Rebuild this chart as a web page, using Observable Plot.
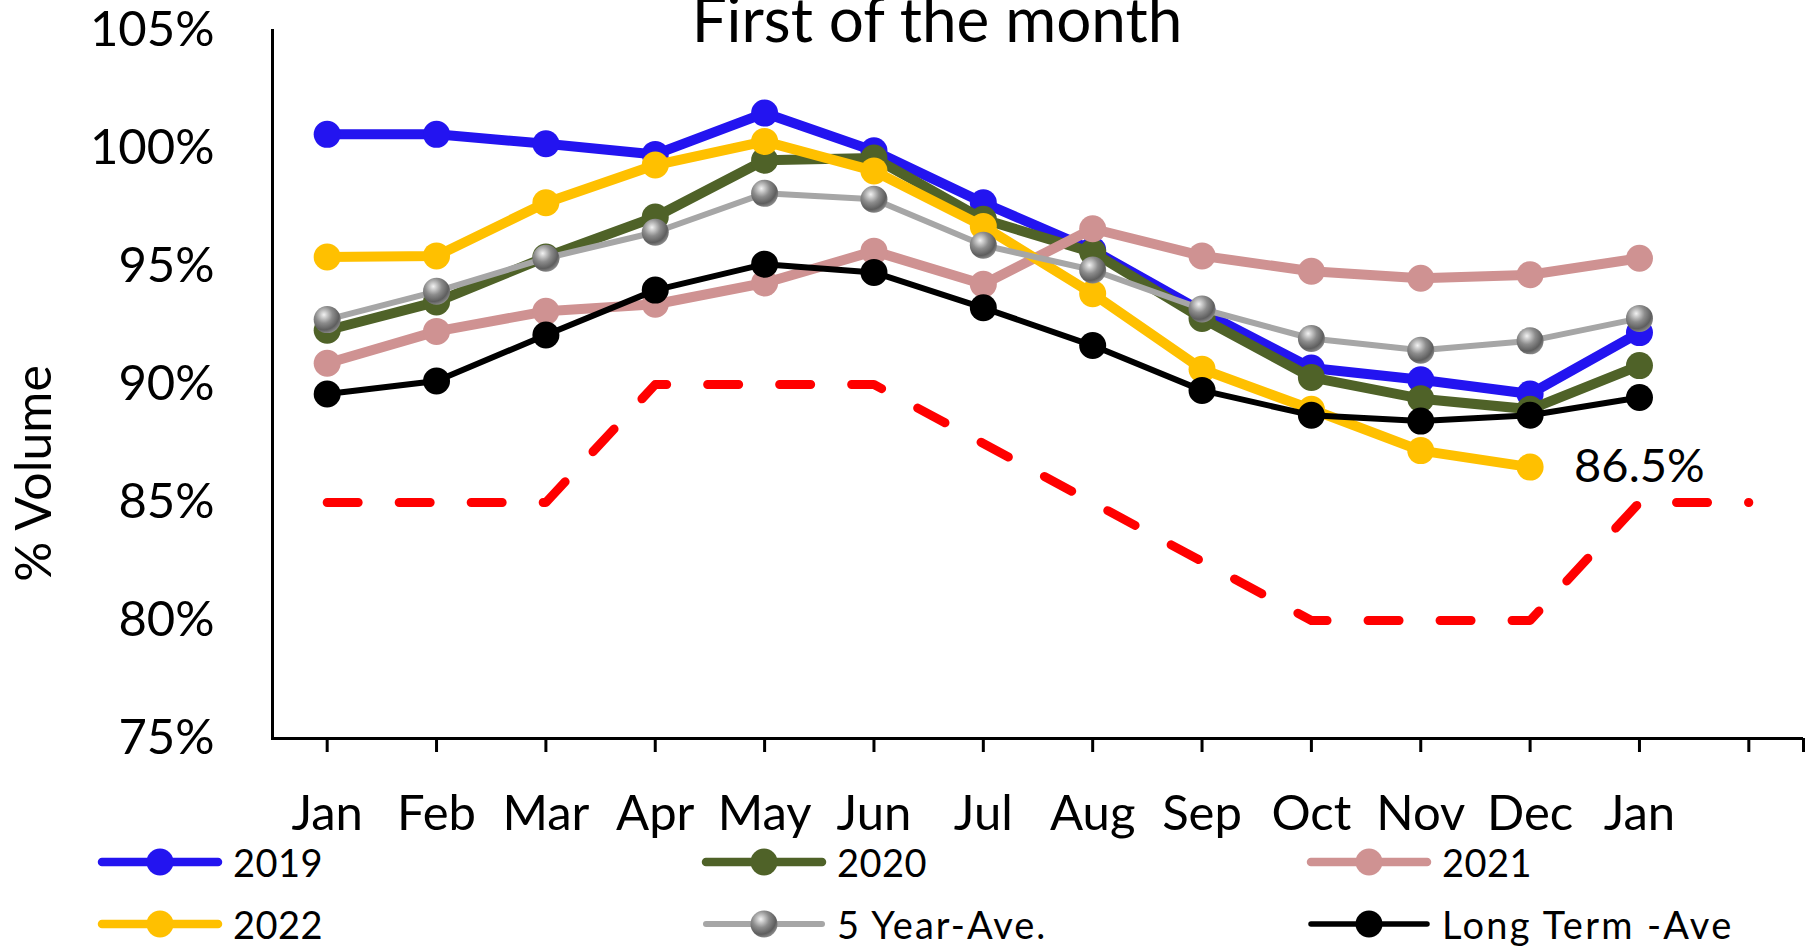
<!DOCTYPE html>
<html>
<head>
<meta charset="utf-8">
<script src="https://cdn.jsdelivr.net/npm/d3@7"></script>
<script src="https://cdn.jsdelivr.net/npm/@observablehq/plot@0.6"></script>
<style>
  body { margin: 0; background: #fff; font-family: Lato, sans-serif; color: #000; }
  #wrap { position: relative; width: 1820px; height: 946px; overflow: hidden; background: #fff; }
  #chart { position: absolute; left: 0; top: 0; }
  #title { position: absolute; left: 0; width: 1874px; top: -13px; text-align: center;
           font-size: 62px; line-height: 62px; white-space: nowrap; }
  .leg { position: absolute; display: flex; align-items: center; font-size: 38px; line-height: 40px;
         white-space: nowrap; height: 40px; }
  .leg svg { display: block; margin-right: 11px; overflow: visible; }
</style>
</head>
<body>
<div id="wrap">
  <div id="chart"></div>
  <div id="title">First of the month</div>
  <div id="legend"></div>
</div>
<script>
// ---- data ----
const months = ["Jan", "Feb", "Mar", "Apr", "May", "Jun", "Jul", "Aug", "Sep", "Oct", "Nov", "Dec", "Jan", ""];
const yTicks = [75, 80, 85, 90, 95, 100, 105];
const v2019 = [100.6, 100.6, 100.2, 99.75, 101.5, 99.9, 97.7, 95.7, 93.1, 90.7, 90.2, 89.6, 92.2];
const v2020 = [92.3, 93.5, 95.4, 97.1, 99.5, 99.6, 97.0, 95.6, 92.8, 90.3, 89.4, 88.95, 90.8];
const v2021 = [90.9, 92.25, 93.1, 93.4, 94.3, 95.65, 94.25, 96.6, 95.45, 94.8, 94.5, 94.65, 95.35];
const v2022 = [95.4, 95.45, 97.7, 99.3, 100.3, 99.05, 96.7, 93.85, 90.65, 88.95, 87.2, 86.5];
const v5yr = [92.75, 93.95, 95.35, 96.45, 98.1, 97.85, 95.9, 94.85, 93.2, 91.95, 91.45, 91.85, 92.8];
const vLT = [89.6, 90.15, 92.1, 94.0, 95.1, 94.75, 93.25, 91.65, 89.75, 88.7, 88.45, 88.7, 89.45];
const vTarget = [85, 85, 85, 90, 90, 90, 87.5, 85, 82.5, 80, 80, 80, 85, 85];
const seriesNames = ["2019", "2020", "2021", "2022", "5 Year-Ave.", "Long Term -Ave"];
const seriesColors = ["#2314F0", "#4F6228", "#CF9292", "#FFC000", "#A6A6A6", "#000000"];
const seriesValues = [v2019, v2020, v2021, v2022, v5yr, vLT];
const markerFills = ["#2314F0", "#4F6228", "#CF9292", "#FFC000", "url(#greyBall)", "#000000"];
const lineWidths = [10, 10, 10, 10, 6, 6];
const dotRadius = [13.5, 13.5, 13.5, 13.5, 13.5, 13.5];

// ---- layout ----
const W = 1820, H = 840, mL = 272, mR = 17, mT = 30, mB = 102;
const halfStep = (W - mL - mR) / months.length / 2;

// ---- build tables ----
const tables = seriesValues.map((vals, s) => vals.map((v, i) => ({i, v, s: seriesNames[s]})));
const targetRows = vTarget.map((v, i) => ({i, v}));
const lastYellow = tables[3][tables[3].length - 1];

const seriesMarks = [];
tables.forEach((rows, s) => {
  seriesMarks.push(Plot.line(rows, {x: "i", y: "v", stroke: seriesColors[s], strokeWidth: lineWidths[s]}));
  seriesMarks.push(Plot.dot(rows, {x: "i", y: "v", r: dotRadius[s], fill: markerFills[s], stroke: "none"}));
});

const chart = Plot.plot({
  width: W,
  height: H,
  marginTop: mT,
  marginBottom: mB,
  marginLeft: mL,
  marginRight: mR,
  style: {fontFamily: "Lato, sans-serif", color: "#000", background: "white", overflow: "visible"},
  x: {type: "point", domain: d3.range(months.length), padding: 0.5, round: false},
  y: {domain: [75, 105]},
  marks: [
    Plot.line(targetRows, {x: "i", y: "v", stroke: "#FF0000", strokeWidth: 9, strokeDasharray: "31,41", strokeLinecap: "round"}),
    ...seriesMarks,
    Plot.text([lastYellow], {x: "i", y: "v", text: d => d.v.toFixed(1) + "%", textAnchor: "start", dx: 44, fontSize: 47}),
    Plot.ruleY([75], {strokeWidth: 3}),
    Plot.frame({anchor: "left", strokeWidth: 3}),
    Plot.axisX({ticks: d3.range(months.length), tickFormat: i => months[i], tickSize: 14, tickPadding: 43,
                fontSize: 49, strokeWidth: 3, label: null}),
    Plot.axisX({ticks: [months.length - 1], tickFormat: () => "", tickSize: 14, strokeWidth: 3, dx: halfStep, label: null}),
    Plot.axisY({ticks: yTicks, tickFormat: d => d + "%", tickSize: 0, tickPadding: 58, fontSize: 49, label: null}),
    Plot.text(["% Volume"], {text: d => d, frameAnchor: "left", textAnchor: "middle", rotate: -90, dx: -238, dy: 89, fontSize: 50})
  ]
});

// gradient for grey 3D-like markers
const svgNS = "http://www.w3.org/2000/svg";
function addGradient(svg) {
  const defs = document.createElementNS(svgNS, "defs");
  defs.innerHTML = `<radialGradient id="greyBall" cx="0.38" cy="0.32" r="0.7">
      <stop offset="0" stop-color="#f2f2f2"/>
      <stop offset="0.45" stop-color="#8c8c8c"/>
      <stop offset="0.8" stop-color="#5e5e5e"/>
      <stop offset="1" stop-color="#8a8a8a"/>
    </radialGradient>`;
  svg.insertBefore(defs, svg.firstChild);
}
addGradient(chart);
document.getElementById("chart").appendChild(chart);

// ---- legend ----
const legendPos = [
  {left: 98, top: 842}, {left: 702, top: 842}, {left: 1307, top: 842},
  {left: 98, top: 904}, {left: 702, top: 904}, {left: 1307, top: 904}
];
const legendLineW = [8.5, 8.5, 8.5, 8.5, 6, 5.5];
const legendSpacing = [0.5, 0.5, 0.5, 0.5, 2, 2.3];
const legend = document.getElementById("legend");
seriesNames.forEach((name, s) => {
  const div = document.createElement("div");
  div.className = "leg";
  div.style.left = legendPos[s].left + "px";
  div.style.top = legendPos[s].top + "px";
  const sw = document.createElementNS(svgNS, "svg");
  sw.setAttribute("width", 124);
  sw.setAttribute("height", 40);
  sw.innerHTML = `<line x1="4" x2="120" y1="20" y2="20" stroke="${seriesColors[s]}" stroke-width="${legendLineW[s]}" stroke-linecap="round"/>
    <circle cx="62" cy="20" r="13.5" fill="${markerFills[s]}"/>`;
  if (s === 4) addGradient(sw);
  div.appendChild(sw);
  const t = document.createElement("span");
  t.textContent = name;
  t.style.letterSpacing = legendSpacing[s] + "px";
  div.appendChild(t);
  legend.appendChild(div);
});
</script>
</body>
</html>
